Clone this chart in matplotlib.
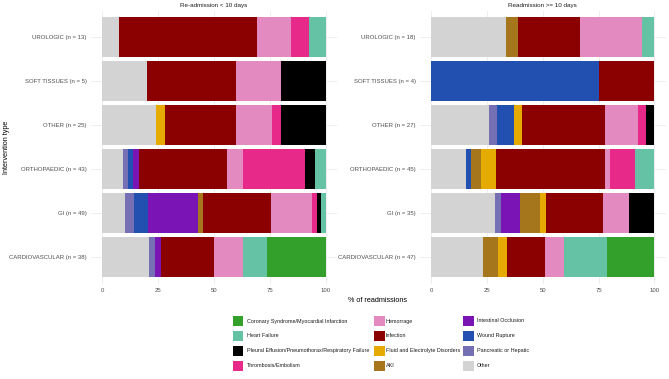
import numpy as np
import matplotlib
matplotlib.use('Agg')
import matplotlib.pyplot as plt
from matplotlib.patches import Rectangle

plt.rcParams['font.family'] = ['Liberation Sans', 'DejaVu Sans']

# stacking order, left to right inside each bar
causes = ['Other', 'Pancreatic or Hepatic', 'Wound Rupture', 'Intestinal Occlusion',
          'AKI', 'Fluid and Electrolyte Disorders', 'Infection', 'Hemorrage',
          'Thrombosis/Embolism', 'Pleural Effusion/Pneumothorax/Respiratory Failure',
          'Heart Failure', 'Coronary Syndrome/Myocardial Infarction']
colors = ['#d3d3d3', '#7570b3', '#2150b0', '#7a14b4',
          '#a6761d', '#e6ab02', '#8b0000', '#e38bc1',
          '#e7298a', '#000000', '#66c2a5', '#33a02c']

# bottom to top
interventions = ['CARDIOVASCULAR', 'GI', 'ORTHOPAEDIC', 'OTHER', 'SOFT TISSUES', 'UROLOGIC']

# counts per cause (same order as causes), one row per intervention
early_counts = np.array([
    [8, 1, 0, 1, 0, 0, 9, 5, 0, 0, 4, 10],   # CARDIOVASCULAR n=38
    [5, 2, 3, 11, 1, 0, 15, 9, 1, 1, 1, 0],  # GI n=49
    [4, 1, 1, 1, 0, 0, 17, 3, 12, 2, 2, 0],  # ORTHOPAEDIC n=43
    [6, 0, 0, 0, 0, 1, 8, 4, 1, 5, 0, 0],    # OTHER n=25
    [1, 0, 0, 0, 0, 0, 2, 1, 0, 1, 0, 0],    # SOFT TISSUES n=5
    [1, 0, 0, 0, 0, 0, 8, 2, 1, 0, 1, 0],    # UROLOGIC n=13
])
late_counts = np.array([
    [11, 0, 0, 0, 3, 2, 8, 4, 0, 0, 9, 10],  # CARDIOVASCULAR n=47
    [10, 1, 0, 3, 3, 1, 9, 4, 0, 4, 0, 0],   # GI n=35
    [7, 0, 1, 0, 2, 3, 22, 1, 5, 0, 4, 0],   # ORTHOPAEDIC n=45
    [7, 1, 2, 0, 0, 1, 10, 4, 1, 1, 0, 0],   # OTHER n=27
    [0, 0, 3, 0, 0, 0, 1, 0, 0, 0, 0, 0],    # SOFT TISSUES n=4
    [6, 0, 0, 0, 1, 0, 5, 5, 0, 0, 1, 0],    # UROLOGIC n=18
])

W, H = 669, 379
fig = plt.figure(figsize=(W / 100, H / 100), dpi=100)


def panel(x0, x1, counts, title):
    ax = fig.add_axes([x0 / W, (H - 283.6) / H, (x1 - x0) / W, 272.8 / H])
    pct = counts / counts.sum(axis=1, keepdims=True) * 100
    y = np.arange(1, len(interventions) + 1)
    left = np.zeros(len(interventions))
    for j, c in enumerate(causes):
        ax.barh(y, pct[:, j], left=left, height=0.9, color=colors[j], zorder=2)
        left += pct[:, j]
    labels = [f'{n} (n = {s})' for n, s in zip(interventions, counts.sum(axis=1))]
    ax.set_yticks(y)
    ax.set_yticklabels(labels, fontsize=4.35, color='#4d4d4d')
    ax.set_xticks([0, 25, 50, 75, 100])
    ax.set_xticklabels(['0', '25', '50', '75', '100'], fontsize=4.35, color='#4d4d4d')
    ax.set_xlim(-5, 105)
    ax.set_ylim(0.4, 6.6)
    ax.tick_params(length=0, pad=3)
    ax.grid(True, color='#ebebeb', linewidth=0.6, zorder=0)
    ax.set_axisbelow(True)
    for s in ax.spines.values():
        s.set_visible(False)
    ax.set_title(title, fontsize=4.5, color='#1a1a1a', pad=3)
    return ax


panel(91, 337, early_counts, 'Re-admission < 10 days')
panel(420, 665.5, late_counts, 'Readmission >= 10 days')

fig.text(378 / W, 1 - 300 / H, '% of readmissions', ha='center', va='center', fontsize=5.2)
fig.text(7 / W, 1 - 147 / H, 'Intervention type', ha='center', va='center',
         rotation=90, fontsize=5.2)

# legend, filled column by column
order = [11, 10, 9, 8, 7, 6, 5, 4, 3, 2, 1, 0]
key_x = [232.5, 374, 463]
text_x = [247, 386, 477]
row_y = [321, 335.8, 350.7, 365.7]
for k, i in enumerate(order):
    col, row = divmod(k, 4)
    fig.add_artist(Rectangle((key_x[col] / W, 1 - (row_y[row] + 5) / H), 11 / W, 10 / H,
                             transform=fig.transFigure, facecolor=colors[i],
                             edgecolor='none'))
    fig.text(text_x[col] / W, 1 - row_y[row] / H, causes[i], ha='left', va='center',
             fontsize=3.9, color='#1a1a1a')

fig.savefig('out.png', dpi=100, facecolor='white')
